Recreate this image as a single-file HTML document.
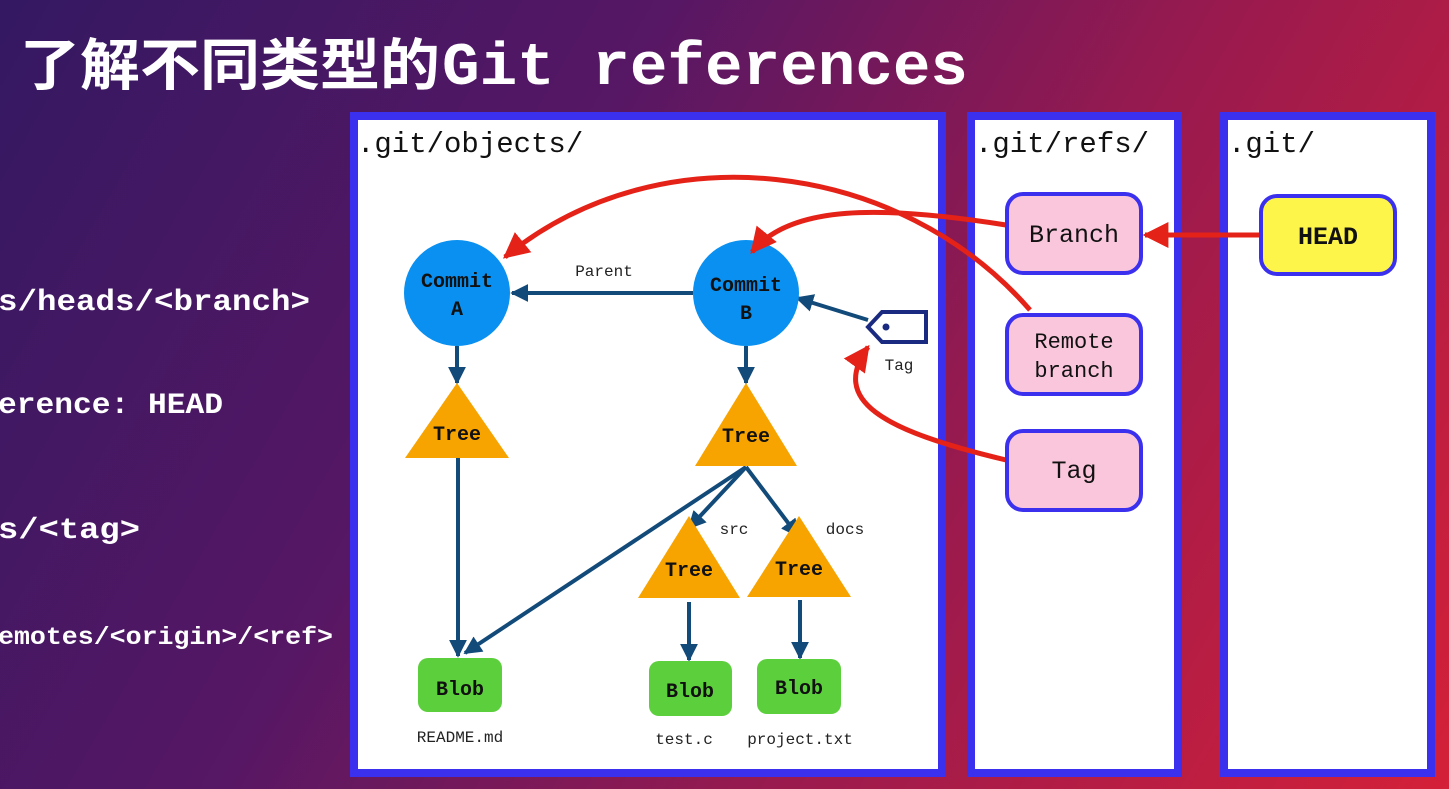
<!DOCTYPE html>
<html><head><meta charset="utf-8"><style>
html,body{margin:0;padding:0;}
body{width:1449px;height:789px;overflow:hidden;background:linear-gradient(120deg,#341862 0%,#561764 35%,#9a1a4e 65%,#d42038 100%);}
svg{display:block}
.m{font-family:"Liberation Mono","DejaVu Sans Mono",monospace;}
</style></head><body>
<svg width="1449" height="789" viewBox="0 0 1449 789" xmlns="http://www.w3.org/2000/svg">
<defs>
<marker id="bb" viewBox="0 0 10 10" markerWidth="18" markerHeight="18" refX="9" refY="5" orient="auto" markerUnits="userSpaceOnUse"><path d="M0,0 L10,5 L0,10 z" fill="#124a7a"/></marker>
<marker id="rh" viewBox="0 0 10 10" markerWidth="26" markerHeight="26" refX="9" refY="5" orient="auto" markerUnits="userSpaceOnUse"><path d="M0,0 L10,5 L0,10 z" fill="#e42218"/></marker>
</defs>
<text x="20" y="85" fill="#fff" font-family="'Liberation Sans','Noto Sans CJK SC',sans-serif" font-weight="bold" font-size="56" textLength="420" lengthAdjust="spacingAndGlyphs">了解不同类型的</text>
<text x="442" y="84" fill="#fff" class="m" font-weight="bold" font-size="60" textLength="526" lengthAdjust="spacingAndGlyphs">Git references</text>
<g class="m" fill="#fff" font-weight="bold">
<text x="-2" y="310" font-size="30" textLength="312" lengthAdjust="spacingAndGlyphs">s/heads/&lt;branch&gt;</text>
<text x="-2" y="413" font-size="30" textLength="225" lengthAdjust="spacingAndGlyphs">erence: HEAD</text>
<text x="-2" y="538" font-size="30" textLength="142" lengthAdjust="spacingAndGlyphs">s/&lt;tag&gt;</text>
<text x="-2" y="644" font-size="25" textLength="335" lengthAdjust="spacingAndGlyphs">emotes/&lt;origin&gt;/&lt;ref&gt;</text>
</g>
<rect x="354" y="116" width="588" height="657" fill="#fff" stroke="#3b30ee" stroke-width="8"/>
<rect x="971" y="116" width="207" height="657" fill="#fff" stroke="#3b30ee" stroke-width="8"/>
<rect x="1224" y="116" width="207" height="657" fill="#fff" stroke="#3b30ee" stroke-width="8"/>
<g class="m" font-size="29" fill="#111">
<text x="357" y="152">.git/objects/</text>
<text x="975" y="152">.git/refs/</text>
<text x="1228" y="152">.git/</text>
</g>
<g stroke="#124a7a" stroke-width="4" fill="none">
<line x1="693" y1="293" x2="512" y2="293" marker-end="url(#bb)"/>
<line x1="457" y1="346" x2="457" y2="383" marker-end="url(#bb)"/>
<line x1="746" y1="346" x2="746" y2="383" marker-end="url(#bb)"/>
<line x1="458" y1="458" x2="458" y2="656" marker-end="url(#bb)"/>
<line x1="746" y1="467" x2="465" y2="653" marker-end="url(#bb)"/>
<line x1="746" y1="467" x2="689" y2="528" marker-end="url(#bb)"/>
<line x1="746" y1="467" x2="798" y2="536" marker-end="url(#bb)"/>
<line x1="689" y1="602" x2="689" y2="660" marker-end="url(#bb)"/>
<line x1="800" y1="600" x2="800" y2="658" marker-end="url(#bb)"/>
<line x1="868" y1="320" x2="797" y2="298" marker-end="url(#bb)"/>
</g>
<path d="M868,327 L882,312 L926,312 L926,342 L882,342 Z" fill="#fff" stroke="#1a2a80" stroke-width="4"/>
<circle cx="886" cy="327" r="3.5" fill="#1a2a80"/>
<circle cx="457" cy="293" r="53" fill="#0a90f0"/>
<circle cx="746" cy="293" r="53" fill="#0a90f0"/>
<polygon points="457,383 509,458 405,458" fill="#f7a300"/>
<polygon points="746,383 797,466 695,466" fill="#f7a300"/>
<polygon points="689,516 740,598 638,598" fill="#f7a300"/>
<polygon points="799,516 851,597 747,597" fill="#f7a300"/>
<rect x="418" y="658" width="84" height="54" rx="10" fill="#5ccf3c"/>
<rect x="649" y="661" width="83" height="55" rx="10" fill="#5ccf3c"/>
<rect x="757" y="659" width="84" height="55" rx="10" fill="#5ccf3c"/>
<g class="m" font-weight="bold" fill="#111" text-anchor="middle" font-size="20">
<text x="457" y="287">Commit</text><text x="457" y="315">A</text>
<text x="746" y="291">Commit</text><text x="746" y="319">B</text>
<text x="457" y="440">Tree</text>
<text x="746" y="442">Tree</text>
<text x="689" y="576">Tree</text>
<text x="799" y="575">Tree</text>
<text x="460" y="695">Blob</text>
<text x="690" y="697">Blob</text>
<text x="799" y="694">Blob</text>
</g>
<g class="m" fill="#222" font-size="16" text-anchor="middle">
<text x="604" y="276">Parent</text>
<text x="899" y="370">Tag</text>
<text x="734" y="534">src</text>
<text x="845" y="534">docs</text>
<text x="460" y="742">README.md</text>
<text x="684" y="744">test.c</text>
<text x="800" y="744">project.txt</text>
</g>
<g stroke="#e42218" stroke-width="5" fill="none">
<path d="M1030,310 C 900,160 660,130 505,257" marker-end="url(#rh)"/>
<path d="M1006,225 C 880,205 790,205 752,252" marker-end="url(#rh)"/>
<line x1="1260" y1="235" x2="1145" y2="235" marker-end="url(#rh)"/>
<path d="M1006,460 C 880,430 830,400 868,347" marker-end="url(#rh)"/>
</g>
<g stroke="#3b30ee" stroke-width="4">
<rect x="1007" y="194" width="134" height="79" rx="16" fill="#f9c6dc"/>
<rect x="1007" y="315" width="134" height="79" rx="16" fill="#f9c6dc"/>
<rect x="1007" y="431" width="134" height="79" rx="16" fill="#f9c6dc"/>
<rect x="1261" y="196" width="134" height="78" rx="16" fill="#fdf54a"/>
</g>
<g class="m" fill="#111" text-anchor="middle">
<text x="1074" y="242" font-size="25">Branch</text>
<text x="1074" y="348" font-size="22">Remote</text>
<text x="1074" y="377" font-size="22">branch</text>
<text x="1074" y="478" font-size="25">Tag</text>
<text x="1328" y="244" font-size="25" font-weight="bold">HEAD</text>
</g>
</svg>
</body></html>
